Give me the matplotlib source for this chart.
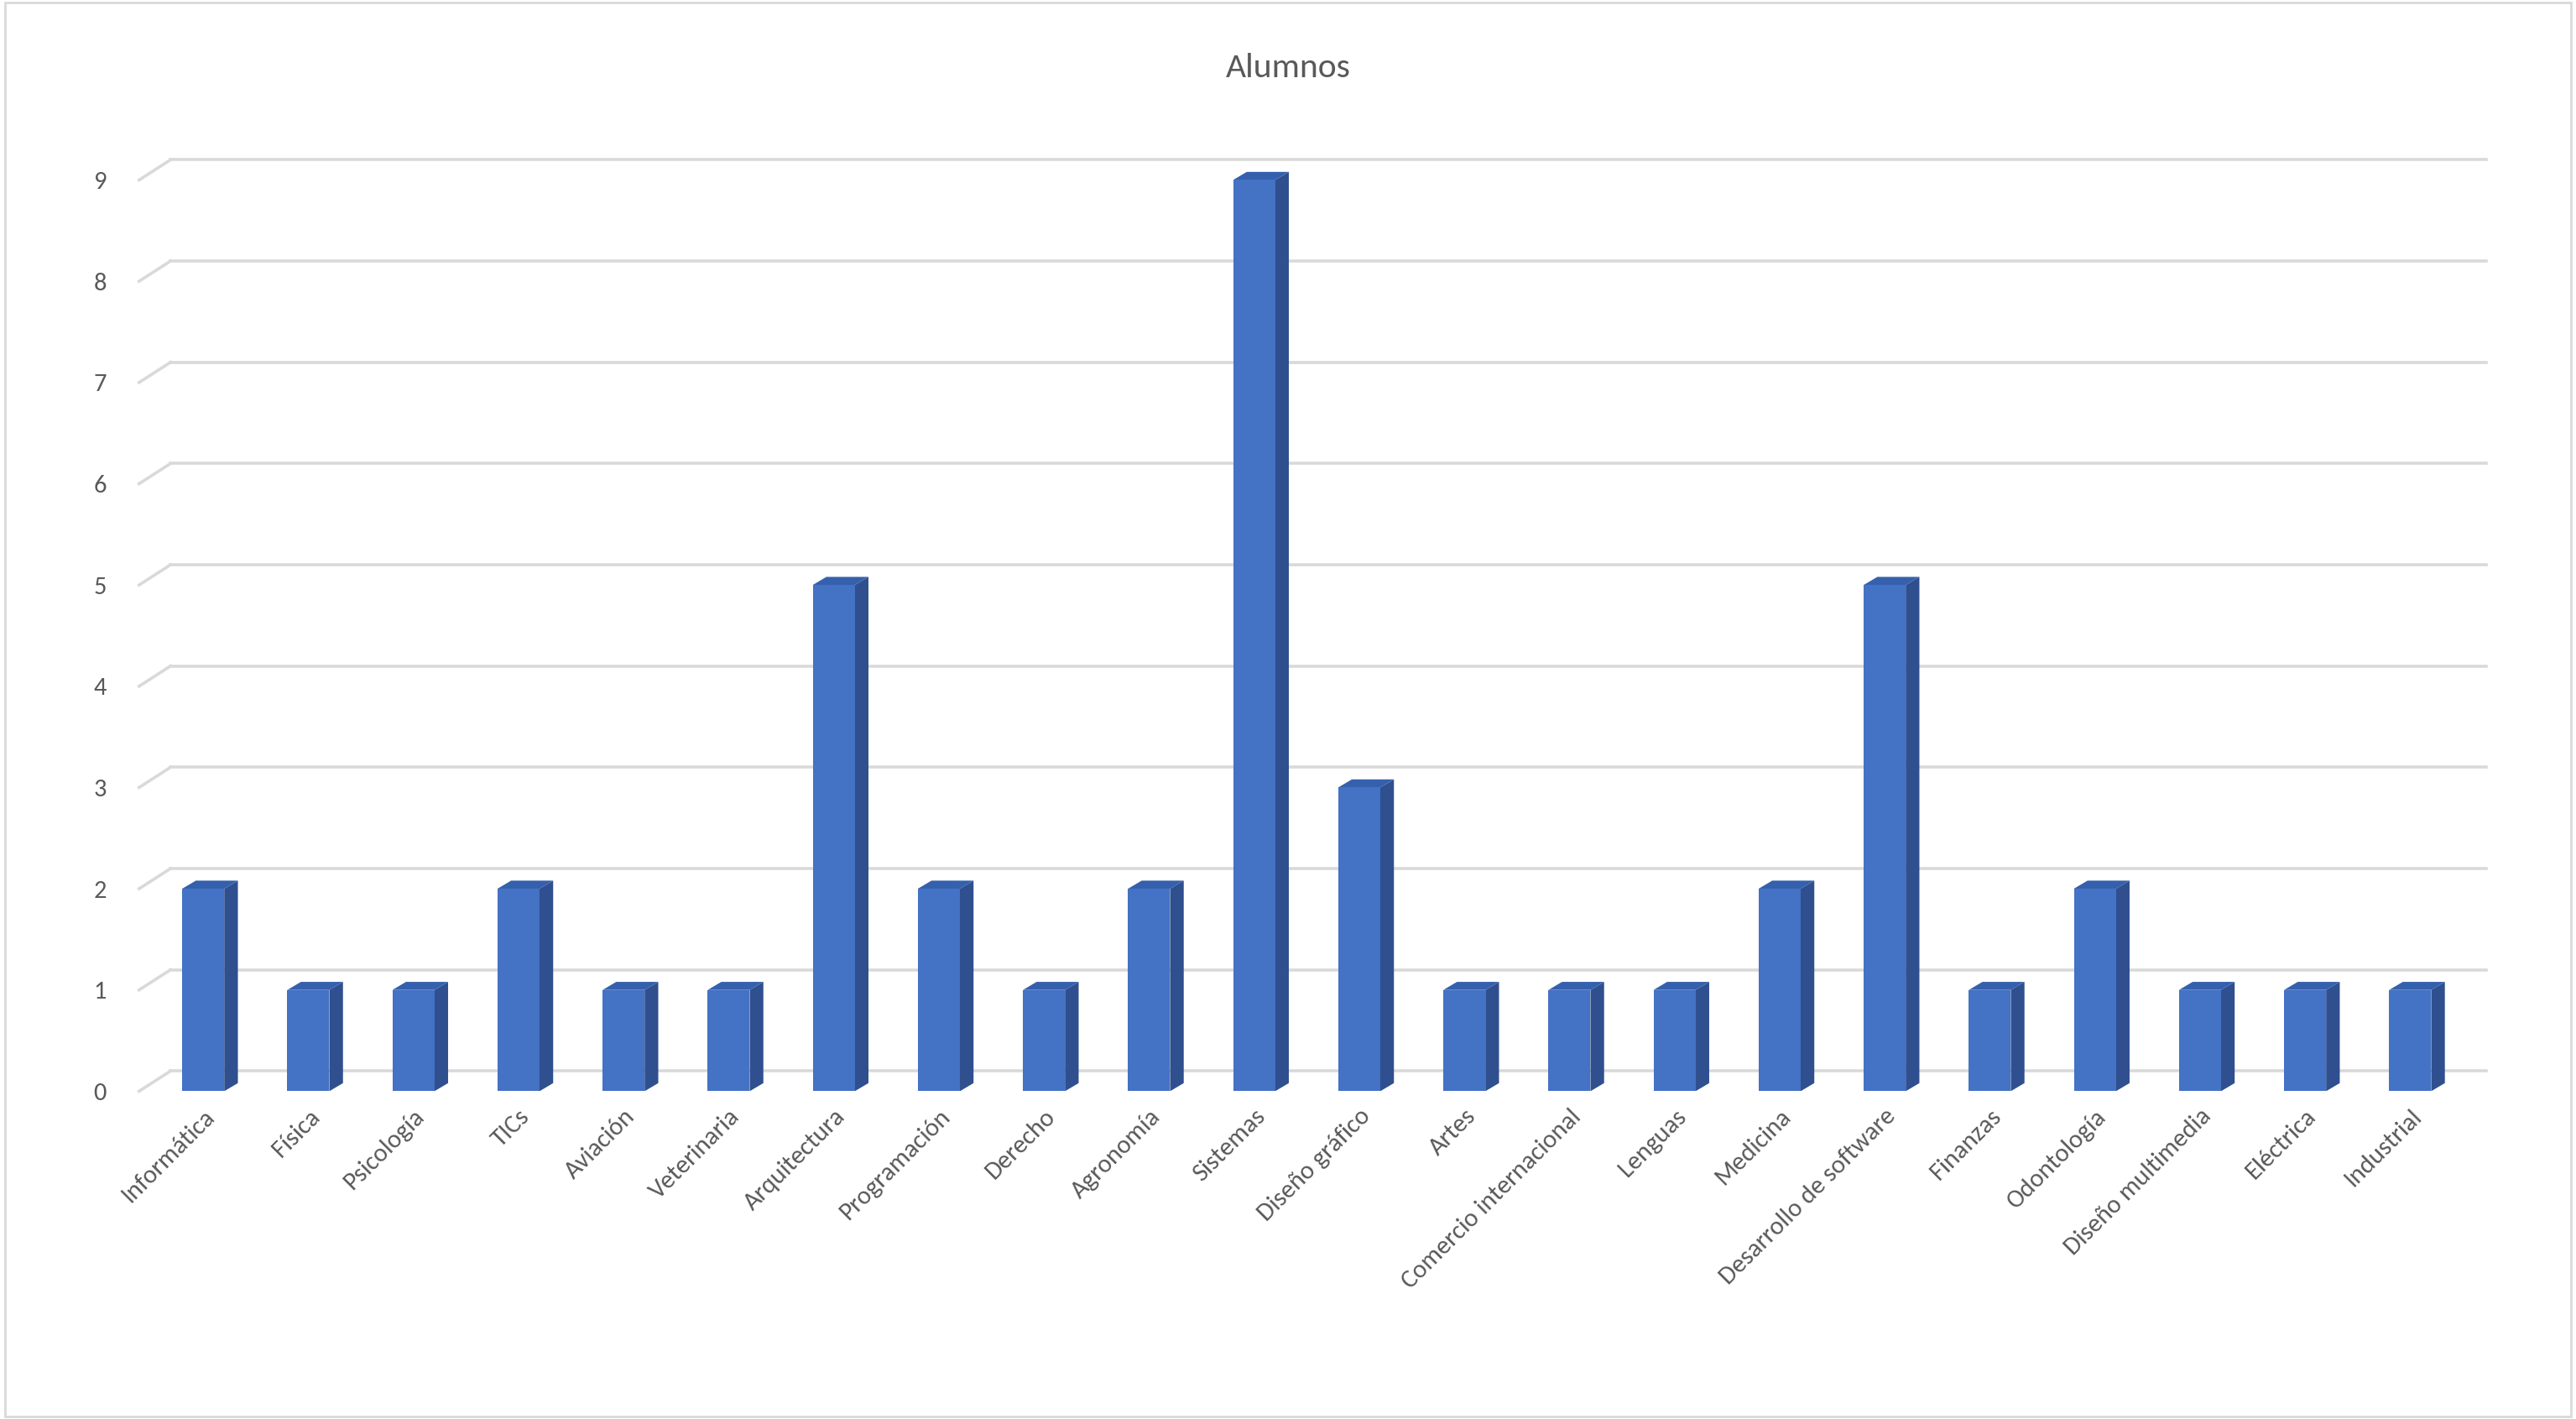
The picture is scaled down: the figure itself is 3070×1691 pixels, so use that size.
import matplotlib
matplotlib.use("Agg")
import matplotlib.pyplot as plt
from matplotlib.patches import Polygon, Rectangle

categories = ["Informática", "Física", "Psicología", "TICs", "Aviación", "Veterinaria",
              "Arquitectura", "Programación", "Derecho", "Agronomía", "Sistemas",
              "Diseño gráfico", "Artes", "Comercio internacional", "Lenguas", "Medicina",
              "Desarrollo de software", "Finanzas", "Odontología", "Diseño multimedia",
              "Eléctrica", "Industrial"]
values = [2, 1, 1, 2, 1, 1, 5, 2, 1, 2, 9, 3, 1, 1, 1, 2, 5, 1, 2, 1, 1, 1]
yticks = list(range(0, 10))

plt.rcParams['font.family'] = ['Calibri', 'Carlito', 'Liberation Sans', 'DejaVu Sans']
fig = plt.figure(figsize=(15.35, 8.455), dpi=200)
ax = fig.add_axes([0.054, 0.231, 0.911, 0.66])
n = len(categories)
ax.set_xlim(-0.61, n - 1 + 0.72)
ax.set_ylim(0, 9.25)

gdx, gdy = 0.3, 0.2
x0 = -0.61
for k in yticks:
    ax.plot([x0, x0 + gdx], [k, k + gdy], color="#d9d9d9", lw=1.3, zorder=1, clip_on=False)
    ax.plot([x0 + gdx, n - 1 + 0.72], [k + gdy, k + gdy], color="#d9d9d9", lw=1.3, zorder=1, clip_on=False)

w = 0.4
bdx, bdy = 0.13, 0.08
for i, v in enumerate(values):
    l, r = i - w / 2, i + w / 2
    ax.add_patch(Polygon([(r, 0), (r + bdx, bdy), (r + bdx, v + bdy), (r, v)],
                         closed=True, fc="#2f4f8f", ec="none", zorder=3))
    ax.add_patch(Polygon([(l, v), (l + bdx, v + bdy), (r + bdx, v + bdy), (r, v)],
                         closed=True, fc="#3560ad", ec="none", zorder=3))
    ax.add_patch(Rectangle((l, 0), w, v, fc="#4472c4", ec="none", zorder=4))

for s in ax.spines.values():
    s.set_visible(False)
ax.set_yticks(yticks)
ax.set_yticklabels([str(t) for t in yticks], fontsize=11, color="#595959")
ax.tick_params(axis="y", length=0, pad=14)
ax.set_xticks(range(n))
ax.set_xticklabels(categories, rotation=45, ha="right", rotation_mode="anchor",
                   fontsize=11, color="#595959")
ax.tick_params(axis="x", length=0, pad=6)
fig.text(0.5, 0.952, "Alumnos", ha="center", va="center", fontsize=15, color="#595959")
fig.patches.append(Rectangle((0.002, 0.002), 0.996, 0.996, transform=fig.transFigure,
                             fill=False, ec="#d9d9d9", lw=1))
fig.savefig("out.png", dpi=200, facecolor="white")
